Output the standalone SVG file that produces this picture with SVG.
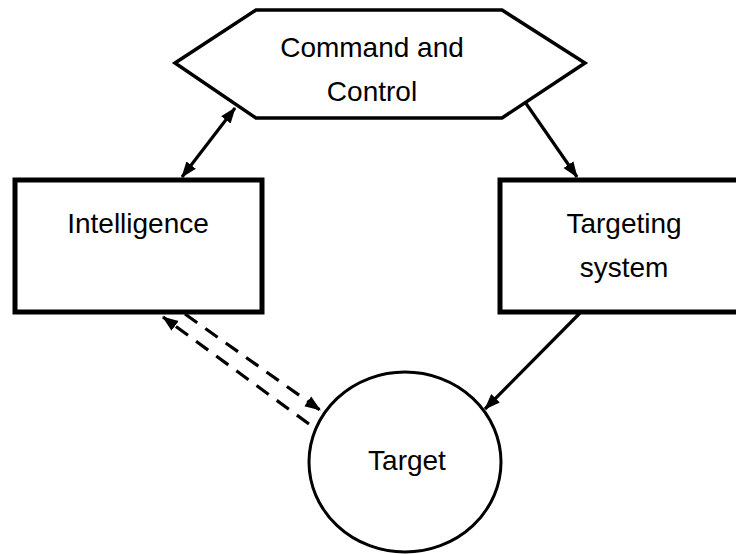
<svg xmlns="http://www.w3.org/2000/svg" width="736" height="554" viewBox="0 0 736 554">
<defs>
<marker id="ah" markerUnits="userSpaceOnUse" markerWidth="16" markerHeight="13" refX="15" refY="6" orient="auto-start-reverse" viewBox="0 0 16 12">
<path d="M0,0 L16,6 L0,12 z" fill="#000"/>
</marker>
<style>
.shape{fill:#fff;stroke:#000}
.t{font-family:"Liberation Sans",Arial,sans-serif;font-size:28px;fill:#000;text-anchor:middle}
.c{stroke:#000;stroke-width:3.2;fill:none}
.d{stroke-dasharray:15 10}
</style>
</defs>
<rect width="736" height="554" fill="#fff"/>
<g id="command">
<polygon class="shape" stroke-width="3.5" points="175,63 256,10 502,10 585,63 502,118 256,118"/>
<text class="t" x="372" y="57">Command and</text>
<text class="t" x="372" y="101">Control</text>
</g>
<g id="intelligence">
<rect class="shape" stroke-width="5" x="15" y="180" width="247" height="132"/>
<text class="t" x="138" y="233">Intelligence</text>
</g>
<g id="targeting">
<rect class="shape" stroke-width="5" x="500" y="180" width="250" height="132"/>
<text class="t" x="624" y="233">Targeting</text>
<text class="t" x="624" y="277">system</text>
</g>
<g id="target">
<ellipse class="shape" stroke-width="3" cx="405" cy="462" rx="96" ry="90"/>
<text class="t" x="407" y="470">Target</text>
</g>
<g id="connectors">
<line class="c" x1="182" y1="177" x2="235" y2="108" marker-start="url(#ah)" marker-end="url(#ah)"/>
<line class="c" x1="525" y1="102" x2="577" y2="177" marker-end="url(#ah)"/>
<line class="c" x1="580" y1="313" x2="485" y2="409" marker-end="url(#ah)"/>
<line class="c d" x1="185" y1="314" x2="320" y2="410" marker-end="url(#ah)"/>
<line class="c d" x1="309" y1="424" x2="163" y2="317" marker-end="url(#ah)"/>
</g>
</svg>
